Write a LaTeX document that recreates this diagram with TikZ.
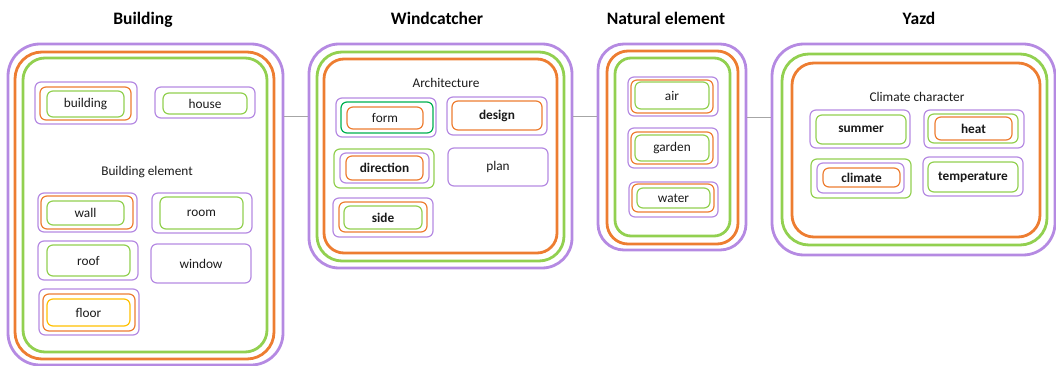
\documentclass[tikz,border=0pt]{standalone}
\usepackage{fontspec}
\setmainfont{Carlito}
\definecolor{cpur}{HTML}{B58AE2}
\definecolor{corg}{HTML}{ED7D31}
\definecolor{cgrn}{HTML}{92D050}
\definecolor{cdgr}{HTML}{00B050}
\definecolor{cyel}{HTML}{FFC000}
\definecolor{clink}{HTML}{A6A6A6}
\definecolor{ctxt}{HTML}{1A1A1A}
% #1 label, #2 name, #3 style, #4..#7 = x1 y1 x2 y2 (pixel grid, y down)
\newcommand\fr[7][]{%
  \node[#3, minimum width={(#6-#4)*1pt}, minimum height={(#7-#5)*1pt}]
    (#2) at ({(#4+#6)/2},{(#5+#7)/2}) {#1};}
\tikzset{
  gbox/.style={draw=#1, line width=2.8pt, inner sep=0pt},
  ibox/.style={draw=#1, line width=1.2pt, rounded corners=6pt, inner sep=0pt,
    text=ctxt, font=\fontsize{13.3}{15}\selectfont},
  bx/.style={font=\fontsize{13.3}{15}\selectfont\bfseries},
  ttl/.style={text=black, font=\fontsize{17.5}{20}\selectfont\bfseries},
  sub/.style={text=ctxt, font=\fontsize{13.3}{15}\selectfont},
  link/.style={draw=clink, line width=1pt}
}
\begin{document}
\begin{tikzpicture}[x=1pt, y=-1pt]
\useasboundingbox (0,0) rectangle (1056,366);

% ---------- Building ----------
\node[ttl] (tB) at (143,20) {Building};
\fr{bP}{gbox=cpur, rounded corners=32pt}{8}{44}{283}{365}
\fr{bO}{gbox=corg, rounded corners=27pt}{15}{52}{274}{359}
\fr{bG}{gbox=cgrn, rounded corners=22pt}{23}{58}{267}{352}
\fr{b1p}{ibox=cpur}{35}{82}{137}{124}
\fr{b1o}{ibox=corg}{40}{87}{131}{120}
\fr[building]{b1g}{ibox=cgrn}{47}{91}{124}{117}
\fr{b2p}{ibox=cpur}{155}{87}{255}{118}
\fr[house]{b2g}{ibox=cgrn}{163}{93}{247}{114}
\node[sub] (sB) at (147,172) {Building element};
\fr{b3p}{ibox=cpur}{38}{193}{137}{232}
\fr{b3o}{ibox=corg}{41}{196}{133}{229}
\fr[wall]{b3g}{ibox=cgrn}{47}{201}{124}{225}
\fr{b4p}{ibox=cpur}{152}{193}{252}{233}
\fr[room]{b4g}{ibox=cgrn}{160}{197}{243}{229}
\fr{b5p}{ibox=cpur}{38}{241}{138}{280}
\fr[roof]{b5g}{ibox=cgrn}{47}{245}{130}{276}
\fr[window]{b6p}{ibox=cpur}{151}{244}{251}{283}
\fr{b7p}{ibox=cpur}{39}{289}{139}{335}
\fr{b7o}{ibox=corg}{43}{294}{135}{331}
\fr[floor]{b7y}{ibox=cyel}{47}{299}{130}{326}

% ---------- Windcatcher ----------
\node[ttl] (tW) at (437,18) {Windcatcher};
\fr{wP}{gbox=cpur, rounded corners=30pt}{309}{44}{572}{268}
\fr{wG}{gbox=cgrn, rounded corners=25pt}{317}{52}{564}{261}
\fr{wO}{gbox=corg, rounded corners=20pt}{324}{59}{557}{253}
\node[sub] (sW) at (446,83) {Architecture};
\fr{w1p}{ibox=cpur}{336}{98}{436}{137}
\fr{w1d}{ibox=cdgr}{341}{102}{433}{133}
\fr[form]{w1o}{ibox=corg}{347}{107}{423}{129}
\fr{w2p}{ibox=cpur}{447}{97}{547}{135}
\fr[design]{w2o}{ibox=corg, bx}{452}{101}{542}{130}
\fr{w3g}{ibox=cgrn}{334}{149}{434}{188}
\fr{w3p}{ibox=cpur}{340}{153}{429}{183}
\fr[direction]{w3o}{ibox=corg, bx}{346}{156}{423}{180}
\fr[plan]{w4p}{ibox=cpur}{448}{148}{548}{186}
\fr{w5p}{ibox=cpur}{333}{198}{433}{237}
\fr{w5o}{ibox=corg}{339}{202}{427}{232}
\fr[side]{w5g}{ibox=cgrn, bx}{344}{206}{422}{229}

% ---------- Natural element ----------
\node[ttl] (tN) at (666,18) {Natural element};
\fr{nP}{gbox=cpur, rounded corners=26pt}{598}{44}{746}{250}
\fr{nO}{gbox=corg, rounded corners=21pt}{607}{51}{738}{244}
\fr{nG}{gbox=cgrn, rounded corners=16pt}{615}{58}{730}{236}
\fr{n1p}{ibox=cpur}{628}{77}{718}{116}
\fr{n1o}{ibox=corg}{631}{80}{713}{113}
\fr[air]{n1g}{ibox=cgrn}{635}{82}{709}{109}
\fr{n2p}{ibox=cpur}{628}{128}{718}{168}
\fr{n2o}{ibox=corg}{631}{132}{713}{164}
\fr[garden]{n2g}{ibox=cgrn}{635}{135}{709}{161}
\fr{n3p}{ibox=cpur}{629}{182}{718}{217}
\fr{n3o}{ibox=corg}{632}{184}{714}{212}
\fr[water]{n3g}{ibox=cgrn}{637}{188}{710}{208}

% ---------- Yazd ----------
\node[ttl] (tY) at (919,18) {Yazd};
\fr{yP}{gbox=cpur, rounded corners=32pt}{772}{44}{1055}{255}
\fr{yG}{gbox=cgrn, rounded corners=27pt}{782}{54}{1047}{245}
\fr{yO}{gbox=corg, rounded corners=22pt}{792}{63}{1040}{237}
\node[sub] (sY) at (917,97) {Climate character};
\fr{y1p}{ibox=cpur}{810}{110}{910}{148}
\fr[summer]{y1g}{ibox=cgrn, bx}{816}{115}{906}{144}
\fr{y2p}{ibox=cpur}{924}{110}{1024}{148}
\fr{y2g}{ibox=cgrn}{928}{114}{1018}{143}
\fr[heat]{y2o}{ibox=corg, bx}{935}{117}{1012}{140}
\fr{y3g}{ibox=cgrn}{811}{159}{911}{198}
\fr{y3p}{ibox=cpur}{817}{163}{904}{193}
\fr[climate]{y3o}{ibox=corg, bx}{823}{168}{900}{187}
\fr{y4p}{ibox=cpur}{923}{157}{1023}{196}
\fr[temperature]{y4g}{ibox=cgrn, bx}{928}{162}{1018}{192}

% ---------- connectors ----------
\coordinate (lv) at (0,117);
\coordinate (lw) at (0,118);
\draw[link] (bP.east |- lv) -- (wP.west |- lv);
\draw[link] (wP.east |- lv) -- (nP.west |- lv);
\draw[link] (nP.east |- lw) -- (yP.west |- lw);
\end{tikzpicture}
\end{document}
